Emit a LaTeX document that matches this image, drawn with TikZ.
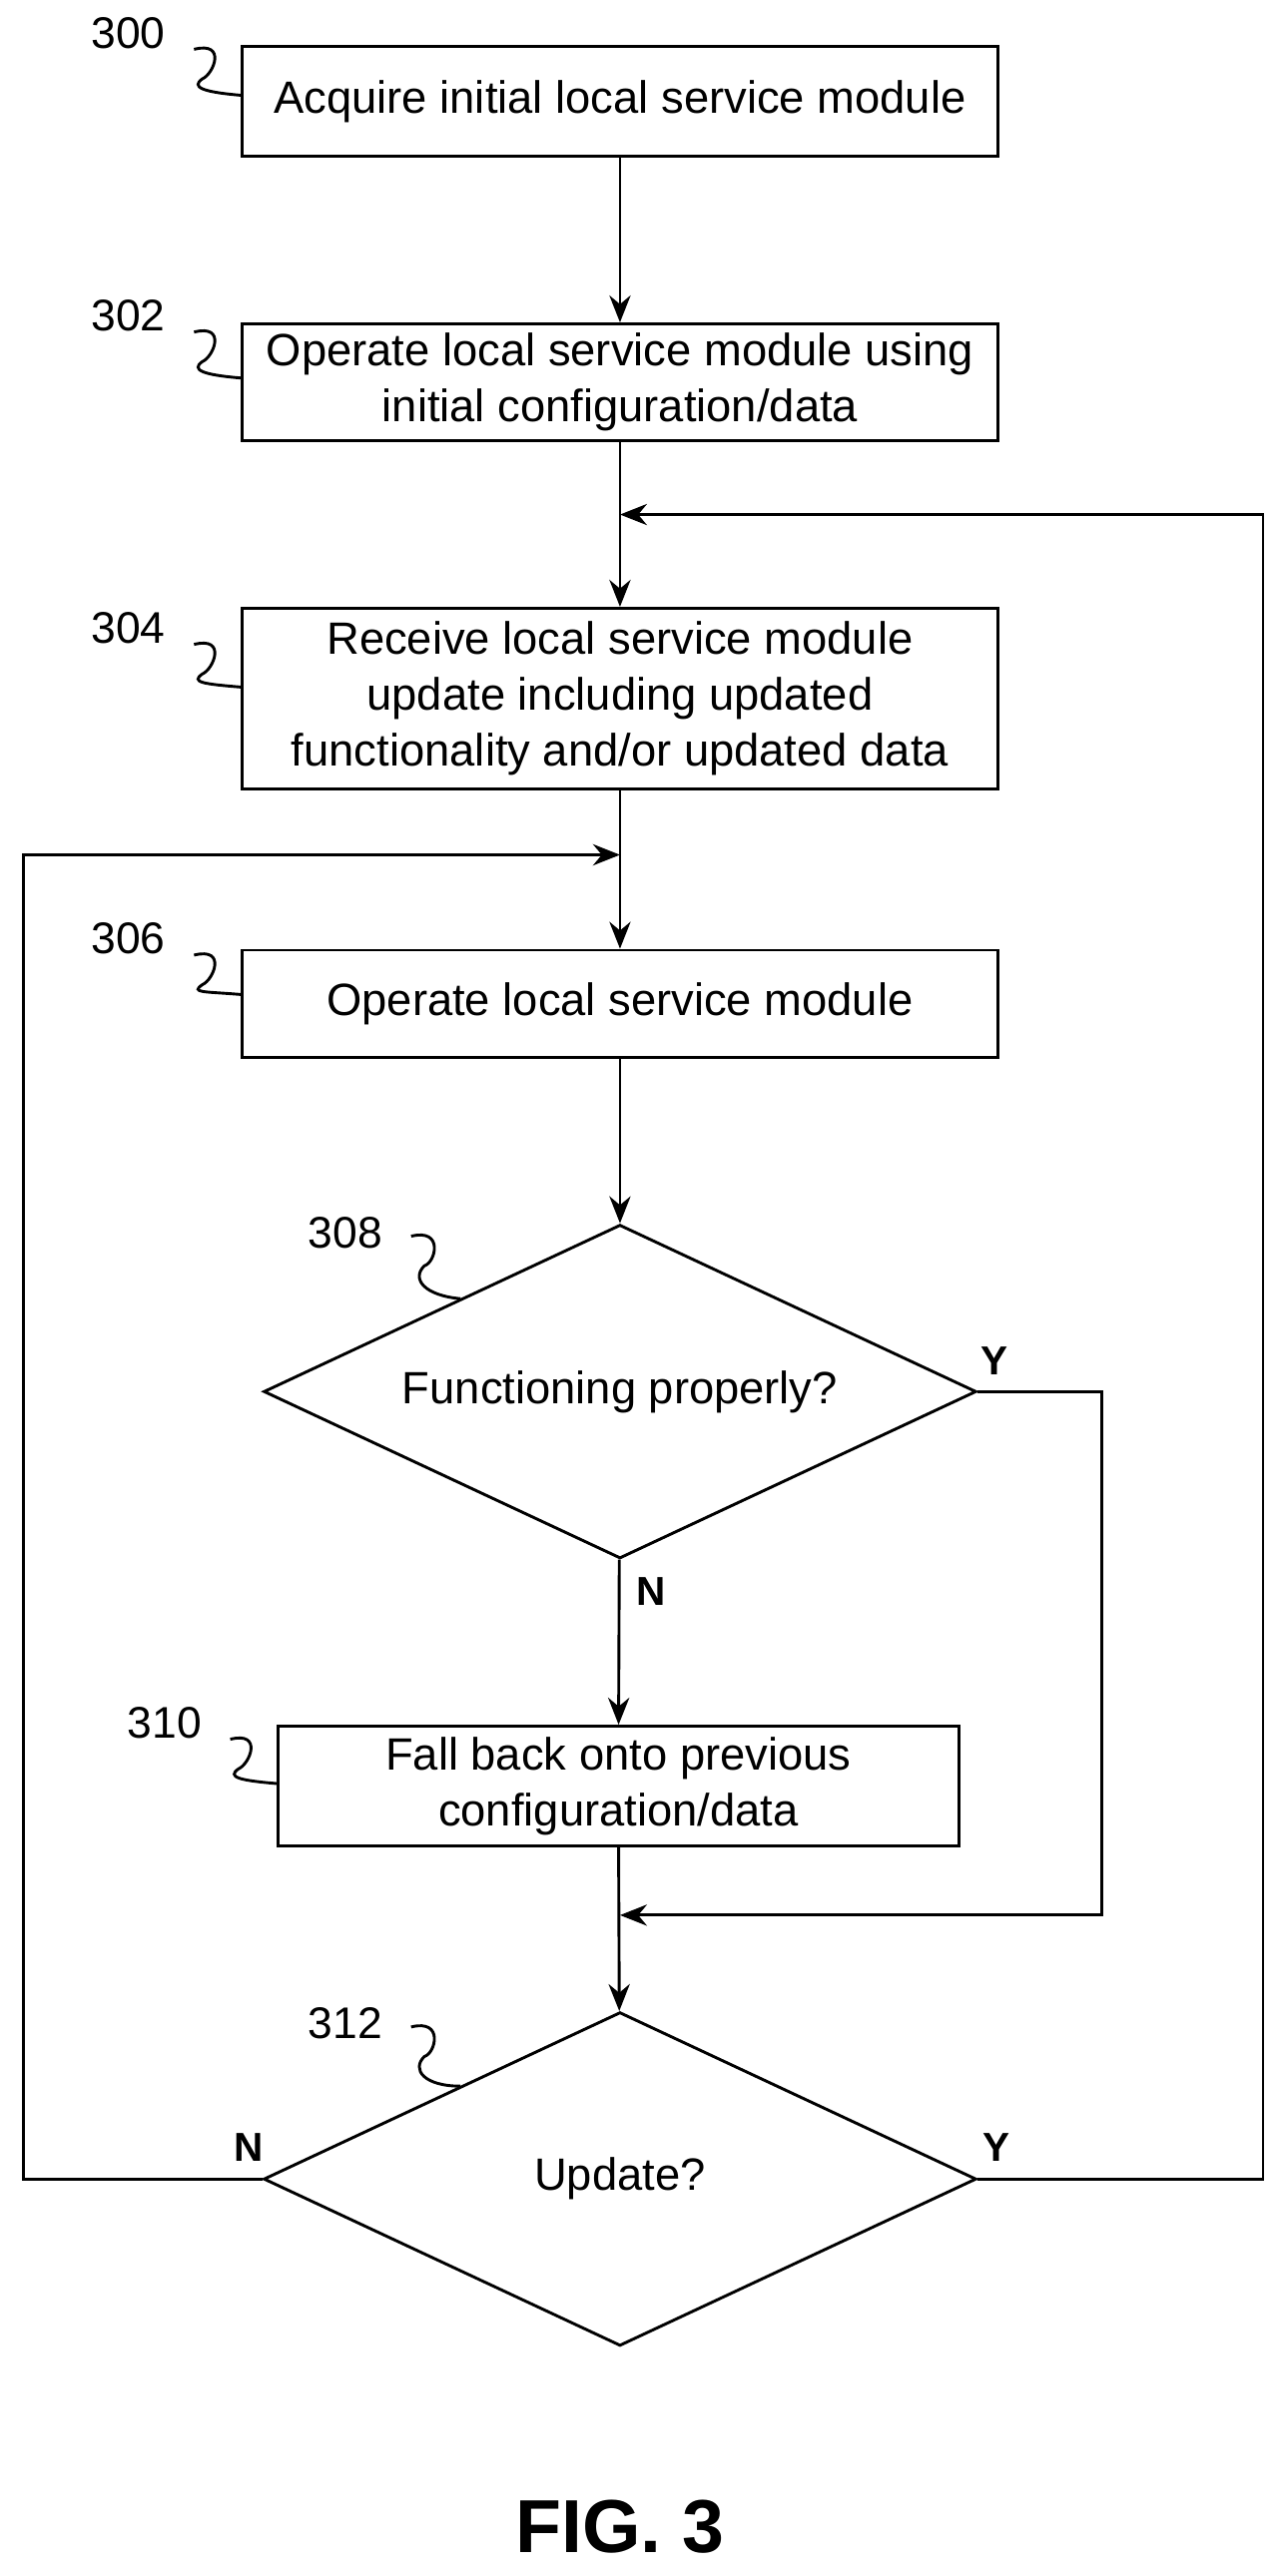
\documentclass[tikz,border=0pt]{standalone}
\usepackage{fontspec}
\setmainfont{Liberation Sans}
\usetikzlibrary{positioning, calc, shapes.geometric, arrows.meta}

\begin{document}
\begin{tikzpicture}[x=0.03cm, y=-0.03cm]
\tikzset{procbox/.style={
    rectangle, draw=black, line width=1.5pt, minimum width=13.8cm, align=center, font=\fontsize{23.5}{29}\selectfont},
    smallbox/.style={
    rectangle, draw=black, line width=1.5pt, minimum width=12.42cm, minimum height=2.19cm, align=center, font=\fontsize{23.5}{29}\selectfont},
    decide/.style={
    diamond, draw=black, line width=1.5pt, minimum width=13cm, minimum height=6.09cm, aspect=2.13, inner sep=0pt, font=\fontsize{23.5}{29}\selectfont},
    refnum/.style={font=\fontsize{23}{29}\selectfont},
    yn/.style={font=\bfseries\fontsize{21}{24}\selectfont},
    flow/.style={line width=1.5pt, -{Stealth[length=14pt, width=11pt]}},
    squig/.style={line width=1.5pt}
}
    \useasboundingbox (0,0) rectangle (780,1567);

    \node[procbox, minimum height=2.01cm] (acquire) at (377,61.5) {Acquire initial local service module};
    \node[procbox, minimum height=2.13cm] (operate_init) at (377,232.5) {Operate local service module using\\initial configuration/data};
    \node[procbox, minimum height=3.3cm] (receive) at (377,425) {Receive local service module\\update including updated\\functionality and/or updated data};
    \node[procbox, minimum height=1.95cm] (operate) at (377,610.5) {Operate local service module};
    \node[decide] (proper) at (377,846.5) {Functioning properly?};
    \node[smallbox] (fallback) at (376,1086.5) {Fall back onto previous\\configuration/data};
    \node[decide] (update) at (377,1325.5) {Update?};

    \coordinate (join_a) at (377,313);
    \coordinate (join_b) at (377,520);
    \coordinate (join_c) at (377,1165);

    % main line
    \draw[flow] (acquire) -- (operate_init);
    \draw[flow] (operate_init) -- (receive);
    \draw[flow] (receive) -- (operate);
    \draw[flow] (operate) -- (proper);
    \draw[flow] (proper) -- (fallback);
    \draw[flow] (fallback) -- (update);

    % loops
    \draw[flow] (proper.east) -- (670,846.5) |- (join_c);
    \draw[flow] (update.east) -- (768,1325.5) |- (join_a);
    \draw[flow] (update.west) -- (14,1325.5) |- (join_b);

    \node[yn] (y1) at (605,828) {Y};
    \node[yn] (n1) at (396,968) {N};
    \node[yn] (n2) at (151,1306) {N};
    \node[yn] (y2) at (606,1306) {Y};

    % reference numbers
    \foreach \num/\nx/\ny/\tx/\ty in {300/78/20/147/58, 302/78/192/147/230, 304/78/382/147/418,
        306/78/571/147/605, 310/100/1048/169/1085} {
        \node[refnum] (ref\num) at (\nx,\ny) {\num};
        \draw[squig] (\nx+40,\ny+10) .. controls (\nx+60,\ny+5) and (\nx+52,\ny+25) .. (\nx+45,\ny+28)
            .. controls (\nx+38,\ny+33) and (\nx+45,\ny+\ty-\ny-2) .. (\tx,\ty);
    }
    \foreach \num/\nx/\ny/\tx/\ty in {308/210/750/280/790, 312/210/1231/280/1269} {
        \node[refnum] (ref\num) at (\nx,\ny) {\num};
        \draw[squig] (\nx+40,\ny+2) .. controls (\nx+60,\ny-3) and (\nx+55,\ny+18) .. (\nx+48,\ny+20)
            .. controls (\nx+40,\ny+28) and (\nx+48,\ny+38) .. (\tx,\ty);
    }

    \node[font=\bfseries\fontsize{39}{44}\selectfont] (fig) at (377,1537) {FIG. 3};
\end{tikzpicture}
\end{document}
